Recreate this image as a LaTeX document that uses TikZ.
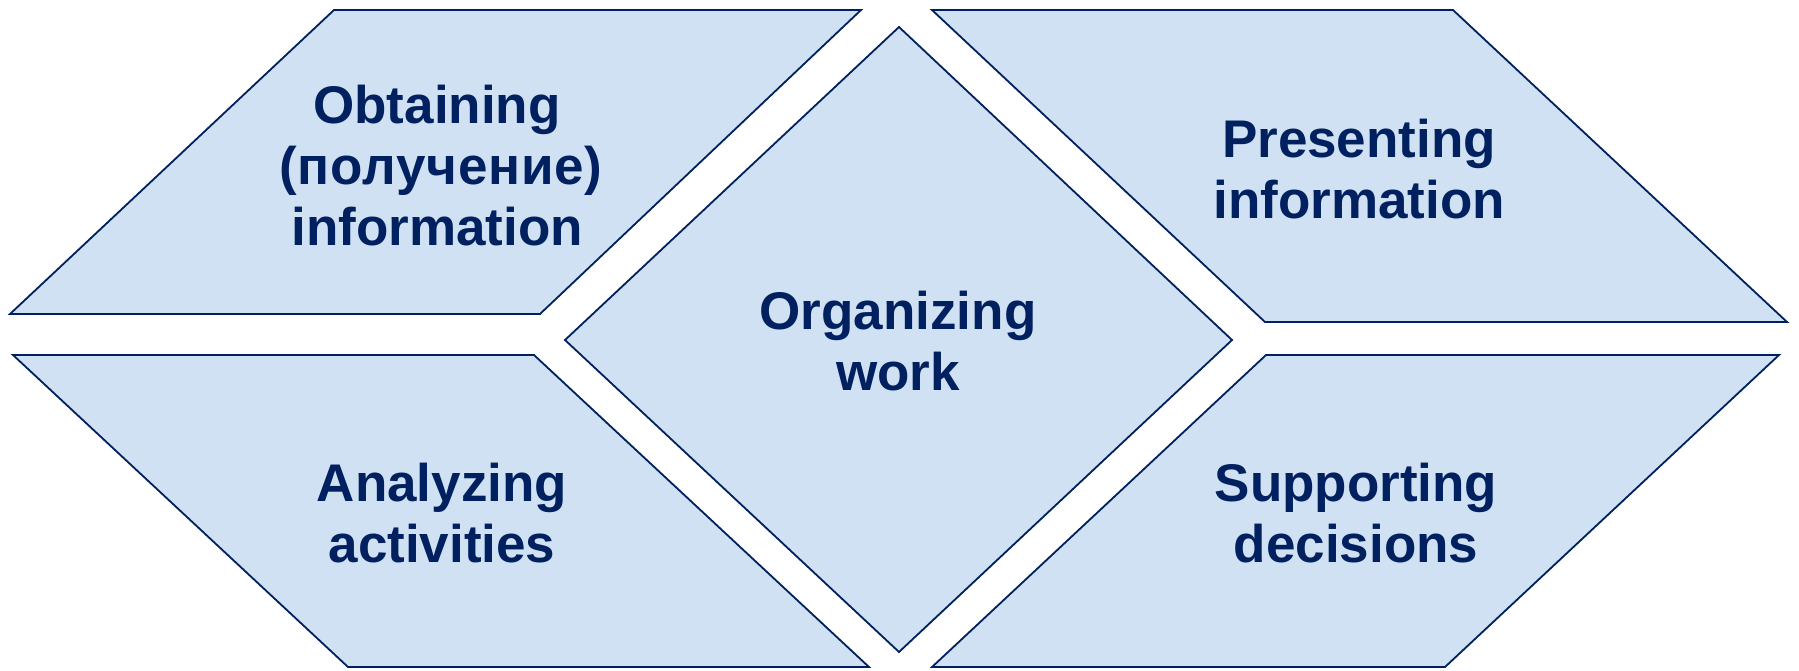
\documentclass[tikz,border=0pt]{standalone}
\usepackage{fontspec}
\setmainfont{Liberation Sans}
\definecolor{boxfill}{RGB}{207,225,242}
\definecolor{navy}{RGB}{0,32,96}
\tikzset{
  panel/.style={fill=boxfill, draw=navy, line width=1.8pt, line join=miter},
  shadowlayer/.style={fill=black, opacity=0.1},
  lbl/.style={anchor=base, text=navy, inner sep=0pt, font=\bfseries\fontsize{53}{61}\selectfont},
}
\newcommand{\shadowpoly}[4]{%
  \foreach \d in {1,...,7}{\fill[shadowlayer, shift={(0.9*\d,0.9*\d)}] (#1) -- (#2) -- (#3) -- (#4) -- cycle;}%
  \path[panel] (#1) -- (#2) -- (#3) -- (#4) -- cycle;}
\begin{document}
\begin{tikzpicture}[x=1pt,y=-1pt]
\useasboundingbox (0,0) rectangle (1799,670);
% top left
\coordinate (tla) at (334,10);  \coordinate (tlb) at (861,10);
\coordinate (tlc) at (540,314); \coordinate (tld) at (10,314);
% top right
\coordinate (tra) at (932,10);   \coordinate (trb) at (1453,10);
\coordinate (trc) at (1787,322); \coordinate (trd) at (1265,322);
% bottom left
\coordinate (bla) at (13,355);  \coordinate (blb) at (534,355);
\coordinate (blc) at (869,667); \coordinate (bld) at (348,667);
% bottom right
\coordinate (bra) at (1266,355); \coordinate (brb) at (1779,355);
\coordinate (brc) at (1445,667); \coordinate (brd) at (932,667);
% diamond
\coordinate (dt) at (899,27);  \coordinate (dr) at (1232,340);
\coordinate (db) at (899,652); \coordinate (dl) at (565,340);

\shadowpoly{tla}{tlb}{tlc}{tld}
\shadowpoly{tra}{trb}{trc}{trd}
\shadowpoly{bla}{blb}{blc}{bld}
\shadowpoly{bra}{brb}{brc}{brd}
\shadowpoly{dt}{dr}{db}{dl}

\node[lbl] (obt1) at (437,123) {Obtaining};
\node[lbl] (obt2) at (441,184) {\addfontfeatures{LetterSpace=1.5}(получение)};
\node[lbl] (obt3) at (437,245) {information};

\node[lbl] (pre1) at (1359,157) {Presenting};
\node[lbl] (pre2) at (1359,218) {information};

\node[lbl] (org1) at (898,329) {Organizing};
\node[lbl] (org2) at (898,390) {work};

\node[lbl] (ana1) at (442,501) {Analyzing};
\node[lbl] (ana2) at (442,562) {activities};

\node[lbl] (sup1) at (1356,501) {Supporting};
\node[lbl] (sup2) at (1356,562) {decisions};
\end{tikzpicture}
\end{document}
